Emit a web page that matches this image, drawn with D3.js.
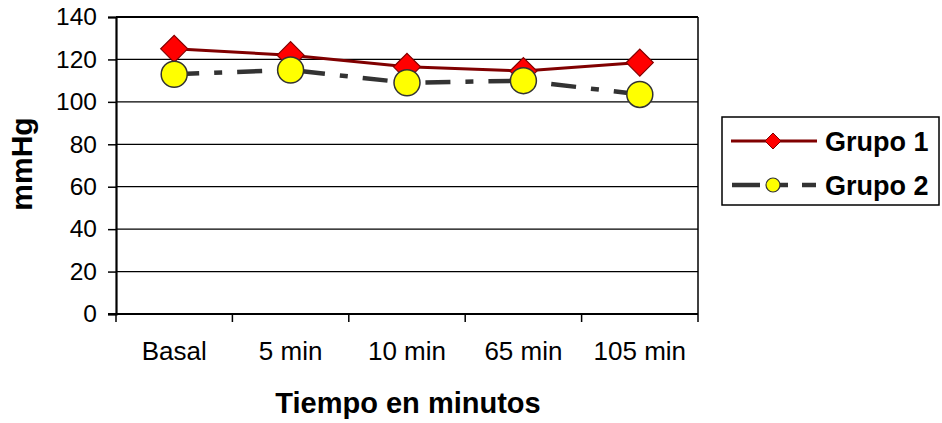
<!DOCTYPE html>
<html>
<head>
<meta charset="utf-8">
<script src="https://cdn.jsdelivr.net/npm/d3@7"></script>
<style>
  html, body { margin: 0; padding: 0; background: #fff; }
  svg { display: block; font-family: "Liberation Sans", Arial, sans-serif; }
</style>
</head>
<body>
<svg id="chart" width="942" height="423"></svg>
<script>
// Blood pressure (mmHg) over time for two groups
const categories = ["Basal", "5 min", "10 min", "65 min", "105 min"];
const grupo1 = [125, 122, 116.5, 114.5, 118.5];
const grupo2 = [113, 115, 109, 110, 103.5];
const yTicks = [0, 20, 40, 60, 80, 100, 120, 140];
const seriesNames = ["Grupo 1", "Grupo 2"];

const svg = d3.select("#chart");
const plot = { left: 116, right: 698, top: 17, bottom: 314 };
const dashPattern = "25,15,8,15";

const x = d3.scaleBand().domain(categories).range([plot.left, plot.right]).paddingInner(0).paddingOuter(0);
const y = d3.scaleLinear().domain([0, 140]).range([plot.bottom, plot.top]);
const cx = d => x(d) + x.bandwidth() / 2;

// horizontal gridlines
svg.append("g").selectAll("line").data(yTicks.filter(t => t > 0)).join("line")
  .attr("x1", plot.left).attr("x2", plot.right)
  .attr("y1", d => y(d)).attr("y2", d => y(d))
  .attr("stroke", "#000").attr("stroke-width", d => d === 140 ? 2 : 1.2);

// right border
svg.append("line").attr("x1", plot.right).attr("x2", plot.right)
  .attr("y1", plot.top).attr("y2", plot.bottom)
  .attr("stroke", "#000").attr("stroke-width", 1.5);

// y axis
const yAxis = svg.append("g").attr("transform", `translate(${plot.left},0)`)
  .call(d3.axisLeft(y).tickValues(yTicks).tickSize(8).tickPadding(11));
yAxis.select(".domain").attr("stroke-width", 2.2);
yAxis.selectAll(".tick line").attr("stroke-width", 1.5);
yAxis.selectAll("text").attr("font-size", 24.5).attr("fill", "#000")
  .attr("font-family", "Liberation Sans, Arial, sans-serif");

// x axis with ticks at category boundaries
const xAxis = svg.append("g").attr("transform", `translate(0,${plot.bottom})`);
xAxis.append("line").attr("x1", plot.left - 8).attr("x2", plot.right)
  .attr("stroke", "#000").attr("stroke-width", 2.2);
const bounds = categories.map(c => x(c)).concat([plot.right]);
xAxis.selectAll("line.tk").data(bounds).join("line").attr("class", "tk")
  .attr("x1", d => d).attr("x2", d => d).attr("y1", 0).attr("y2", 8)
  .attr("stroke", "#000").attr("stroke-width", 1.5);
xAxis.selectAll("text").data(categories).join("text")
  .attr("x", d => cx(d)).attr("y", 45.5)
  .attr("text-anchor", "middle").attr("font-size", 26).attr("fill", "#000")
  .text(d => d);

// axis titles
svg.append("text").attr("x", 408).attr("y", 413).attr("text-anchor", "middle")
  .attr("font-size", 29).attr("font-weight", "bold").text("Tiempo en minutos");
svg.append("text").attr("transform", "translate(32,164) rotate(-90)")
  .attr("text-anchor", "middle").attr("font-size", 30).attr("font-weight", "bold").text("mmHg");

// series lines
const line = d3.line().x((d, i) => cx(categories[i])).y(d => y(d));
svg.append("path").datum(grupo2).attr("d", line).attr("fill", "none")
  .attr("stroke", "#333").attr("stroke-width", 4.5).attr("stroke-dasharray", dashPattern);
svg.append("path").datum(grupo1).attr("d", line).attr("fill", "none")
  .attr("stroke", "#800000").attr("stroke-width", 3);

const diamond = s => `M0,${-s}L${s},0L0,${s}L${-s},0Z`;

// Grupo 1 markers (diamonds)
svg.append("g").selectAll("path").data(grupo1).join("path")
  .attr("transform", (d, i) => `translate(${cx(categories[i])},${y(d)})`)
  .attr("d", diamond(13.5)).attr("fill", "#ff0000").attr("stroke", "#800000").attr("stroke-width", 1.2);

// Grupo 2 markers (circles)
svg.append("g").selectAll("circle").data(grupo2).join("circle")
  .attr("cx", (d, i) => cx(categories[i])).attr("cy", d => y(d)).attr("r", 13)
  .attr("fill", "#ffff00").attr("stroke", "#333").attr("stroke-width", 1.5);

// legend
const lg = svg.append("g");
lg.append("rect").attr("x", 722).attr("y", 117).attr("width", 217).attr("height", 88)
  .attr("fill", "#fff").attr("stroke", "#000").attr("stroke-width", 1.5);
const rows = [141, 185];
lg.append("line").attr("x1", 731).attr("x2", 817).attr("y1", rows[0]).attr("y2", rows[0])
  .attr("stroke", "#800000").attr("stroke-width", 3);
lg.append("path").attr("transform", `translate(773,${rows[0]})`).attr("d", diamond(8))
  .attr("fill", "#ff0000").attr("stroke", "#800000").attr("stroke-width", 1);
lg.append("line").attr("x1", 732).attr("x2", 816).attr("y1", rows[1]).attr("y2", rows[1])
  .attr("stroke", "#333").attr("stroke-width", 4.5).attr("stroke-dasharray", "28,14,14,14");
lg.append("circle").attr("cx", 773).attr("cy", rows[1]).attr("r", 7)
  .attr("fill", "#ffff00").attr("stroke", "#333").attr("stroke-width", 1.2);
lg.selectAll("text").data(seriesNames).join("text")
  .attr("x", 825).attr("y", (d, i) => rows[i] + 10)
  .attr("font-size", 27).attr("font-weight", "bold").attr("fill", "#000").text(d => d);
</script>
</body>
</html>
